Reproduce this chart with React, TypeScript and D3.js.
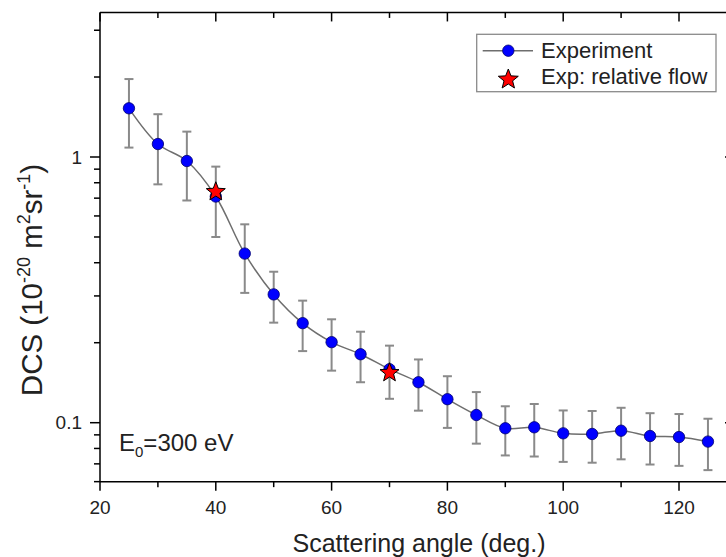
import React from "react";
import * as d3 from "d3";

const angles = [25, 30, 35, 40, 45, 50, 55, 60, 65, 70, 75, 80, 85, 90, 95, 100, 105, 110, 115, 120, 125];
const dcs = [1.525, 1.119, 0.966, 0.71, 0.433, 0.304, 0.237, 0.201, 0.181, 0.159, 0.142, 0.1226, 0.1069, 0.0953, 0.0961, 0.0912, 0.0907, 0.0933, 0.0891, 0.0883, 0.0849];
const errs = [0.44, 0.33, 0.28, 0.21, 0.125, 0.066, 0.051, 0.044, 0.039, 0.036, 0.031, 0.027, 0.0235, 0.02, 0.0215, 0.02, 0.02, 0.0205, 0.0195, 0.0195, 0.0186];
const relAngles = [40, 70];
const relDcs = [0.74, 0.1542];

const xMajor = [20, 40, 60, 80, 100, 120];
const xMinor = [30, 50, 70, 90, 110];
const yMajor = [0.1, 1];
const yMinor = [0.06, 0.07, 0.08, 0.09, 0.2, 0.3, 0.4, 0.5, 0.6, 0.7, 0.8, 0.9, 2, 3];
const xLimits = [20, 129.5];
const yLimits = [0.06, 3.5];

const FONT = "'Liberation Sans', Arial, Helvetica, sans-serif";

function starPath(cx: number, cy: number, R: number, r: number) {
  const pts: [number, number][] = [];
  for (let i = 0; i < 10; i++) {
    const a = -Math.PI / 2 + (i * Math.PI) / 5;
    const rad = i % 2 === 0 ? R : r;
    pts.push([cx + rad * Math.cos(a), cy + rad * Math.sin(a)]);
  }
  return "M" + pts.map((p) => p[0].toFixed(2) + "," + p[1].toFixed(2)).join("L") + "Z";
}

export default function App() {
  const x = d3.scaleLinear().domain([20, 120]).range([100, 679]);
  const y = d3.scaleLog().domain([0.1, 1]).range([422.7, 157]);
  const left = x(xLimits[0]);
  const right = x(xLimits[1]);
  const bottom = y(yLimits[0]);
  const top = y(yLimits[1]);

  const pts: [number, number][] = angles.map((a, i) => [x(a), y(dcs[i])]);
  const line = d3.line().curve(d3.curveCatmullRom.alpha(0.5))(pts) || "";

  const axisColor = "#000";
  const cap = 4.5;

  return (
    <svg width={726} height={557} style={{ position: "absolute", left: 0, top: 0, background: "#fff" }} fontFamily={FONT}>
      <rect x={0} y={0} width={726} height={557} fill="#fff" />
      {/* error bars */}
      {angles.map((a, i) => {
        const cx = x(a);
        const y1 = y(dcs[i] + errs[i]);
        const y2 = y(dcs[i] - errs[i]);
        return (
          <g key={"e" + i} stroke="#8a8a8a" strokeWidth={2}>
            <line x1={cx} x2={cx} y1={y1} y2={y2} />
            <line x1={cx - cap} x2={cx + cap} y1={y1} y2={y1} />
            <line x1={cx - cap} x2={cx + cap} y1={y2} y2={y2} />
          </g>
        );
      })}
      <path d={line} fill="none" stroke="#6e6e6e" strokeWidth={1.5} />
      {pts.map((p, i) => (
        <circle key={"c" + i} cx={p[0]} cy={p[1]} r={5.7} fill="#0000ff" stroke="#00006e" strokeWidth={0.8} />
      ))}
      {relAngles.map((a, i) => (
        <path key={"s" + i} d={starPath(x(a), y(relDcs[i]), 10, 4.3)} fill="#ff0000" stroke="#000" strokeWidth={1} />
      ))}

      {/* frame */}
      <g stroke={axisColor} strokeWidth={1.5} fill="none">
        <line x1={left} x2={right} y1={bottom} y2={bottom} />
        <line x1={left} x2={right} y1={top} y2={top} />
        <line x1={left} x2={left} y1={top} y2={bottom} />
        <line x1={right} x2={right} y1={top} y2={bottom} />
      </g>
      {/* bottom ticks (outward) and top ticks (inward) */}
      <g stroke={axisColor} strokeWidth={1.5}>
        {xMajor.map((v) => (
          <g key={"xm" + v}>
            <line x1={x(v)} x2={x(v)} y1={bottom} y2={bottom + 9} />
            <line x1={x(v)} x2={x(v)} y1={top} y2={top + 9} />
          </g>
        ))}
        {xMinor.map((v) => (
          <g key={"xn" + v}>
            <line x1={x(v)} x2={x(v)} y1={bottom} y2={bottom + 5.5} />
            <line x1={x(v)} x2={x(v)} y1={top} y2={top + 5.5} />
          </g>
        ))}
        {yMajor.map((v) => (
          <g key={"ym" + v}>
            <line x1={left - 10} x2={left} y1={y(v)} y2={y(v)} />
            <line x1={right - 9} x2={right} y1={y(v)} y2={y(v)} />
          </g>
        ))}
        {yMinor.map((v) => (
          <g key={"yn" + v}>
            <line x1={left - 6} x2={left} y1={y(v)} y2={y(v)} />
            <line x1={right - 5.5} x2={right} y1={y(v)} y2={y(v)} />
          </g>
        ))}
      </g>
      {/* tick labels */}
      <g fontSize={19} fill="#222">
        {xMajor.map((v) => (
          <text key={"xl" + v} x={x(v)} y={513.5} textAnchor="middle">
            {v}
          </text>
        ))}
        {yMajor.map((v) => (
          <text key={"yl" + v} x={82} y={y(v)} dy="0.35em" textAnchor="end">
            {v}
          </text>
        ))}
      </g>
      {/* axis titles */}
      <text x={419} y={552} fontSize={25} textAnchor="middle" fill="#222">
        Scattering angle (deg.)
      </text>
      <text transform="translate(42,280) rotate(-90)" fontSize={29.5} textAnchor="middle" fill="#222">
        DCS (10
        <tspan fontSize={18} dy={-12}>-20</tspan>
        <tspan fontSize={29.5} dy={12}> m</tspan>
        <tspan fontSize={18} dy={-12}>2</tspan>
        <tspan fontSize={29.5} dy={12}>sr</tspan>
        <tspan fontSize={18} dy={-12}>-1</tspan>
        <tspan fontSize={29.5} dy={12}>)</tspan>
      </text>
      {/* annotation */}
      <text x={119} y={451} fontSize={24} fill="#222">
        E<tspan fontSize={15} dy={6}>0</tspan>
        <tspan fontSize={24} dy={-6}>=300 eV</tspan>
      </text>
      {/* legend */}
      <rect x={476.7} y={34.3} width={239.3} height={57.4} fill="#fff" stroke="#8a8a8a" strokeWidth={1.3} />
      <line x1={482.7} x2={533} y1={50.7} y2={50.7} stroke="#6e6e6e" strokeWidth={1.5} />
      <circle cx={508.3} cy={50.7} r={5.7} fill="#0000ff" stroke="#00006e" strokeWidth={0.8} />
      <path d={starPath(508.3, 79.5, 10.5, 4.5)} fill="#ff0000" stroke="#000" strokeWidth={1} />
      <text x={541} y={57.5} fontSize={22} fill="#222">
        Experiment
      </text>
      <text x={541} y={83.5} fontSize={22} fill="#222">
        Exp: relative flow
      </text>
    </svg>
  );
}
